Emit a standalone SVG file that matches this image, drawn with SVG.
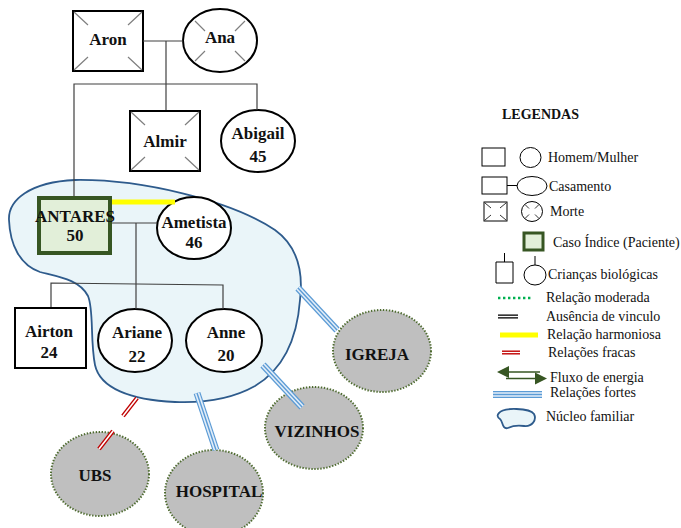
<svg xmlns="http://www.w3.org/2000/svg" width="681" height="528" viewBox="0 0 681 528">
  <style>
    .person { fill: #ffffff; stroke: #000000; stroke-width: 2; }
    .index { fill: #e2efd9; stroke: #375623; stroke-width: 4; }
    .tick { stroke: #7f7f7f; stroke-width: 1.2; }
    .kin { fill: none; stroke: #404040; stroke-width: 1.2; }
    .name { font-family: "Liberation Serif", "Times New Roman", serif; font-weight: bold; font-size: 17px; fill: #111111; text-anchor: middle; }
    .ext { fill: #bfbfbf; stroke: #4e6b30; stroke-width: 2; stroke-dasharray: 1.4 1.6; }
    .core { fill: #eaf5f9; stroke: #2e5b8c; stroke-width: 1.8; }
    .strong-a { stroke: #5b9bd5; stroke-width: 7; fill: none; }
    .strong-b { stroke: #e3eef9; stroke-width: 4.6; fill: none; }
    .strong-c { stroke: #5b9bd5; stroke-width: 1.4; fill: none; }
    .weak-a { stroke: #c00000; stroke-width: 4.4; fill: none; }
    .weak-b { stroke: #ffffff; stroke-width: 1.6; fill: none; }
    .lg { font-family: "Liberation Serif", "Times New Roman", serif; font-size: 14px; fill: #111111; }
    .lgs { fill: #ffffff; stroke: #000000; stroke-width: 1; }
  </style>

  <!-- family nucleus -->
  <g id="family-core">
    <path class="core" d="M9,220 C8,200 30,182 75,180 C140,179 230,200 275,230 C300,248 303,275 300,300 C297,340 282,370 255,386 C230,400 200,403 175,402 C130,400 100,388 95,365 C90,340 94,310 88,296 C80,280 60,277 40,272 C20,265 10,245 9,220 Z"/>
  </g>

  <!-- genogram -->
  <g id="aron">
    <rect class="person" x="73" y="11" width="70" height="60"/>
    <path class="tick" d="M74,12 L88,25 M142,12 L128,25 M74,70 L88,57 M142,70 L128,57"/>
    <text class="name" x="108" y="45">Aron</text>
  </g>
  <g id="ana">
    <ellipse class="person" cx="220" cy="40.5" rx="37" ry="31.5"/>
    <path class="tick" d="M195,21 L205,31 M245,21 L235,31 M195,61 L205,51 M245,61 L235,51"/>
    <text class="name" x="220" y="43">Ana</text>
  </g>
  <g id="almir">
    <rect class="person" x="130" y="111" width="70" height="60"/>
    <path class="tick" d="M131,112 L145,125 M199,112 L185,125 M131,170 L145,157 M199,170 L185,157"/>
    <text class="name" x="165" y="147">Almir</text>
  </g>
  <g id="abigail">
    <ellipse class="person" cx="258" cy="141" rx="37" ry="31"/>
    <text class="name" x="258" y="139">Abigail</text>
    <text class="name" x="258" y="162">45</text>
  </g>
  <g id="antares">
    <rect class="index" x="39" y="198" width="71" height="55"/>
    <text class="name" x="75" y="222" font-size="15">ANTARES</text>
    <text class="name" x="75" y="241">50</text>
  </g>
  <g id="ametista">
    <ellipse class="person" cx="194" cy="228" rx="37" ry="31"/>
    <text class="name" x="194" y="228">Ametista</text>
    <text class="name" x="194" y="248">46</text>
  </g>
  <g id="airton">
    <rect class="person" x="15" y="308" width="71" height="60"/>
    <text class="name" x="49" y="337">Airton</text>
    <text class="name" x="49" y="358">24</text>
  </g>
  <g id="ariane">
    <ellipse class="person" cx="135" cy="340.5" rx="37" ry="31.5"/>
    <text class="name" x="137" y="338">Ariane</text>
    <text class="name" x="137" y="362">22</text>
  </g>
  <g id="anne">
    <ellipse class="person" cx="224" cy="340.5" rx="38" ry="31.5"/>
    <text class="name" x="226" y="338">Anne</text>
    <text class="name" x="226" y="361">20</text>
  </g>

  <!-- ecomap -->
  <g id="igreja">
    <ellipse class="ext" cx="382" cy="351" rx="49" ry="41"/>
    <text class="name" x="377" y="360">IGREJA</text>
  </g>
  <g id="vizinhos">
    <ellipse class="ext" cx="314" cy="428" rx="49" ry="41"/>
    <text class="name" x="317" y="437">VIZINHOS</text>
  </g>
  <g id="hospital">
    <ellipse class="ext" cx="214" cy="493" rx="49" ry="43"/>
    <text class="name" x="219" y="497">HOSPITAL</text>
  </g>
  <g id="ubs">
    <ellipse class="ext" cx="100" cy="474" rx="49" ry="42"/>
    <text class="name" x="95" y="481">UBS</text>
  </g>

  <!-- connectors -->
  <g id="connectors">
    <!-- genealogy -->
    <line class="kin" x1="143" y1="41" x2="183" y2="41"/>
    <line class="kin" x1="166" y1="41" x2="166" y2="110"/>
    <polyline class="kin" points="74,196 74,84 257,84 257,110"/>
    <line class="kin" x1="112" y1="223" x2="157" y2="223"/>
    <line class="kin" x1="136" y1="223" x2="136" y2="309"/>
    <polyline class="kin" points="51,307 51,283 223,285 223,309"/>
    <!-- harmonious relation -->
    <line x1="112" y1="202" x2="175" y2="202" stroke="#ffff00" stroke-width="5"/>
    <!-- strong relations -->
    <g>
      <line class="strong-a" x1="298" y1="288" x2="337" y2="330"/>
      <line class="strong-b" x1="298" y1="288" x2="337" y2="330"/>
      <line class="strong-c" x1="298" y1="288" x2="337" y2="330"/>
      <line class="strong-a" x1="263" y1="365" x2="302" y2="407"/>
      <line class="strong-b" x1="263" y1="365" x2="302" y2="407"/>
      <line class="strong-c" x1="263" y1="365" x2="302" y2="407"/>
      <line class="strong-a" x1="197" y1="393" x2="216" y2="450"/>
      <line class="strong-b" x1="197" y1="393" x2="216" y2="450"/>
      <line class="strong-c" x1="197" y1="393" x2="216" y2="450"/>
    </g>
    <!-- weak relation -->
    <g>
      <line class="weak-a" x1="137" y1="398" x2="123" y2="416"/>
      <line class="weak-b" x1="137" y1="398" x2="123" y2="416"/>
      <line class="weak-a" x1="113" y1="431" x2="99" y2="449"/>
      <line class="weak-b" x1="113" y1="431" x2="99" y2="449"/>
    </g>
  </g>

  <!-- key -->
  <g id="legend">
    <text x="502" y="119" font-family="Liberation Serif, serif" font-weight="bold" font-size="14" fill="#111">LEGENDAS</text>

    <rect class="lgs" x="482" y="148" width="23" height="18"/>
    <ellipse class="lgs" cx="530.5" cy="157.5" rx="10.5" ry="10"/>
    <text class="lg" x="548" y="162">Homem/Mulher</text>

    <rect class="lgs" x="482" y="177" width="25" height="17"/>
    <line x1="507" y1="185.5" x2="518" y2="185.5" stroke="#000" stroke-width="1"/>
    <ellipse class="lgs" cx="532" cy="186" rx="15" ry="9.5"/>
    <text class="lg" x="549" y="191">Casamento</text>

    <rect class="lgs" x="484" y="202" width="23" height="19"/>
    <path stroke="#000" stroke-width="0.8" d="M485,203 L491,208 M506,203 L500,208 M485,220 L491,215 M506,220 L500,215"/>
    <ellipse class="lgs" cx="532" cy="211.5" rx="10.5" ry="10"/>
    <path stroke="#000" stroke-width="0.8" d="M525,204.5 L529,208.5 M539,204.5 L535,208.5 M525,218.5 L529,214.5 M539,218.5 L535,214.5"/>
    <text class="lg" x="550" y="216">Morte</text>

    <rect x="524" y="233" width="19" height="17" fill="#e2efd9" stroke="#375623" stroke-width="3"/>
    <text class="lg" x="553" y="247">Caso Índice (Paciente)</text>

    <path fill="none" stroke="#000" stroke-width="1" d="M496,262 H513 V283 H496 Z M504.5,262 V253"/>
    <ellipse class="lgs" cx="535" cy="275" rx="11" ry="10"/>
    <line x1="535" y1="265" x2="535" y2="256" stroke="#000" stroke-width="1"/>
    <text class="lg" x="548" y="279">Crianças biológicas</text>

    <line x1="498" y1="298" x2="532" y2="298" stroke="#00b050" stroke-width="2.4" stroke-dasharray="2.4 2.6"/>
    <text class="lg" x="546" y="302">Relação moderada</text>

    <line x1="498" y1="316.5" x2="518" y2="316.5" stroke="#222" stroke-width="4.2"/>
    <line x1="498" y1="316.5" x2="518" y2="316.5" stroke="#fff" stroke-width="1.2"/>
    <text class="lg" x="546" y="321">Ausência de vinculo</text>

    <line x1="500" y1="335" x2="538" y2="335" stroke="#ffff00" stroke-width="5"/>
    <text class="lg" x="547" y="339">Relação harmoniosa</text>

    <line x1="502" y1="352.5" x2="520" y2="352.5" stroke="#c00000" stroke-width="4"/>
    <line x1="502" y1="352.5" x2="520" y2="352.5" stroke="#fff" stroke-width="1.2"/>
    <text class="lg" x="548" y="357">Relações fracas</text>

    <line x1="505" y1="372" x2="540" y2="372" stroke="#375623" stroke-width="1.5"/>
    <polygon points="497,372 509,366 509,378" fill="#375623"/>
    <line x1="506" y1="378.5" x2="537" y2="378.5" stroke="#375623" stroke-width="1.5"/>
    <polygon points="547,378.5 535,372.5 535,384.5" fill="#375623"/>
    <text class="lg" x="550" y="382">Fluxo  de energia</text>

    <line class="strong-a" x1="493" y1="394.5" x2="542" y2="394.5"/>
    <line class="strong-b" x1="493" y1="394.5" x2="542" y2="394.5"/>
    <line class="strong-c" x1="493" y1="394.5" x2="542" y2="394.5"/>
    <text class="lg" x="550" y="397">Relações fortes</text>

    <path class="core" d="M499,413 C503,407 530,408 534,414 C537,420 532,427 524,426 C517,425 512,426 508,428 C502,430 503,421 500,419 C497,417 497,415 499,413 Z"/>
    <text class="lg" x="546" y="421">Núcleo familiar</text>
  </g>
</svg>
